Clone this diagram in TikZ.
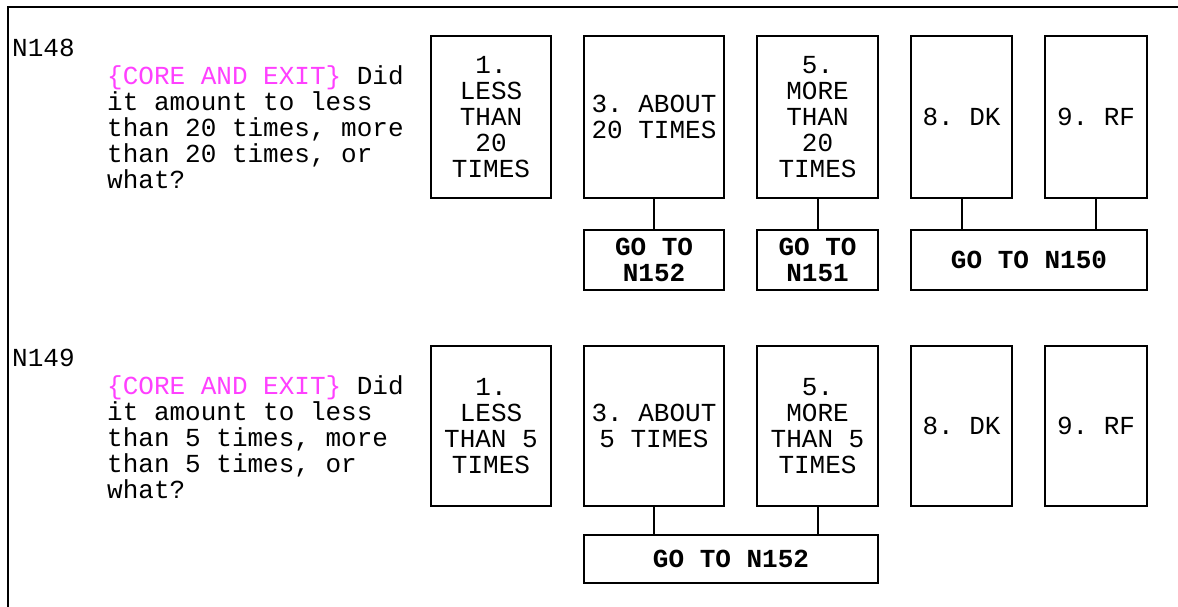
\documentclass[tikz,border=0pt]{standalone}
\usepackage{fontspec}
\setmainfont{Liberation Mono}
\usepackage{xcolor}
\usepackage{tikz}
\definecolor{nota}{HTML}{FF40FF}
\frenchspacing

\begin{document}
\begin{tikzpicture}[x=1pt, y=-1pt,
    texto/.style={font=\fontsize{26}{26}\selectfont},
    opcion/.style={draw, line width=2pt, align=center, inner sep=0pt, texto},
    salto/.style={opcion, font=\bfseries\fontsize{26}{26}\selectfont},
    enlace/.style={line width=2pt}]
    \useasboundingbox (0,0) rectangle (1178,607);
    % Marco superior e izquierdo
    \draw[line width=2pt] (1178,7.5) -- (7.5,7.5) -- (7.5,607);

    % Pregunta N148
    \node[texto, anchor=base west, inner sep=0pt] (n148) at (12,57) {N148};
    \node[texto, anchor=base west, inner sep=0pt, align=left, text width=320pt] (q148) at (107,85)
        {\spaceskip=0pt\xspaceskip=0pt{\color{nota}\{CORE AND EXIT\}} Did\\it amount to less\\than 20 times, more\\than 20 times, or\\what?};
    % Opciones de N148
    \node[opcion, minimum width=120pt, minimum height=161pt] (menos20) at (491,117) {1.\\LESS\\THAN\\20\\TIMES};
    \node[opcion, minimum width=140pt, minimum height=161pt] (cerca20) at (654,117) {3. ABOUT\\20 TIMES};
    \node[opcion, minimum width=121pt, minimum height=161pt] (mas20) at (817.5,117) {5.\\MORE\\THAN\\20\\TIMES};
    \node[opcion, minimum width=101pt, minimum height=161pt] (dkA) at (961.5,117) {8. DK};
    \node[opcion, minimum width=102pt, minimum height=161pt] (rfA) at (1096,117) {9. RF};
    % Saltos de N148
    \node[salto, minimum width=140pt, minimum height=60pt] (irA152) at (654,260) {GO TO\\N152};
    \node[salto, minimum width=121pt, minimum height=60pt] (irA151) at (817.5,260) {GO TO\\N151};
    \node[salto, minimum width=236pt, minimum height=60pt] (irA150) at (1029,260) {GO TO N150};
    \draw[enlace] (cerca20.south) -- (irA152.north);
    \draw[enlace] (mas20.south) -- (irA151.north);
    \draw[enlace] (dkA.south) -- (dkA.south |- irA150.north);
    \draw[enlace] (rfA.south) -- (rfA.south |- irA150.north);

    % Pregunta N149
    \node[texto, anchor=base west, inner sep=0pt] (n149) at (12,366) {N149};
    \node[texto, anchor=base west, inner sep=0pt, align=left, text width=320pt] (q149) at (107,394)
        {\spaceskip=0pt\xspaceskip=0pt{\color{nota}\{CORE AND EXIT\}} Did\\it amount to less\\than 5 times, more\\than 5 times, or\\what?};
    % Opciones de N149
    \node[opcion, minimum width=120pt, minimum height=160pt] (menos5) at (491,426) {1.\\LESS\\THAN 5\\TIMES};
    \node[opcion, minimum width=140pt, minimum height=160pt] (cerca5) at (654,426) {3. ABOUT\\5 TIMES};
    \node[opcion, minimum width=121pt, minimum height=160pt] (mas5) at (817.5,426) {5.\\MORE\\THAN 5\\TIMES};
    \node[opcion, minimum width=101pt, minimum height=160pt] (dkB) at (961.5,426) {8. DK};
    \node[opcion, minimum width=102pt, minimum height=160pt] (rfB) at (1096,426) {9. RF};
    % Salto de N149
    \node[salto, minimum width=294pt, minimum height=48pt] (irB152) at (731,559) {GO TO N152};
    \draw[enlace] (cerca5.south) -- (cerca5.south |- irB152.north);
    \draw[enlace] (mas5.south) -- (mas5.south |- irB152.north);
\end{tikzpicture}
\end{document}
